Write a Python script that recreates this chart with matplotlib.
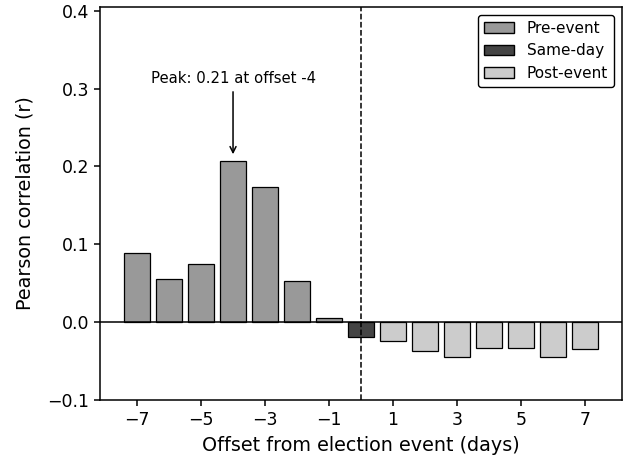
import matplotlib
matplotlib.use("Agg")
import matplotlib.pyplot as plt
from matplotlib.patches import Patch

offsets = [-7, -6, -5, -4, -3, -2, -1, 0, 1, 2, 3, 4, 5, 6, 7]
corr = [0.088, 0.055, 0.075, 0.207, 0.173, 0.052, 0.0055, -0.020,
        -0.024, -0.037, -0.045, -0.034, -0.034, -0.045, -0.035]
xticks = [-7, -5, -3, -1, 1, 3, 5, 7]
yticks = [-0.1, 0.0, 0.1, 0.2, 0.3, 0.4]

c_pre, c_same, c_post = "#999999", "#444444", "#cccccc"
colors = [c_pre if o < 0 else (c_same if o == 0 else c_post) for o in offsets]

fig, ax = plt.subplots(figsize=(6.28, 4.62), dpi=100)
ax.bar(offsets, corr, width=0.8, color=colors, edgecolor="black", linewidth=0.9)
ax.axhline(0, color="black", linewidth=1.1)
ax.axvline(0, color="black", linestyle="--", linewidth=1.1)

peak_i = max(range(len(corr)), key=lambda i: corr[i])
ax.annotate(f"Peak: {corr[peak_i]:.2f} at offset {offsets[peak_i]}",
            xy=(offsets[peak_i], corr[peak_i] + 0.005),
            xytext=(offsets[peak_i], 0.303), ha="center", va="bottom",
            fontsize=10.7, arrowprops=dict(arrowstyle="->", color="black", lw=1.1))

ax.set_ylim(-0.1, 0.405)
ax.set_xticks(xticks)
ax.set_yticks(yticks)
ax.tick_params(labelsize=12.5, width=1.1, length=4.5)
for s in ax.spines.values():
    s.set_linewidth(1.1)
ax.set_xlabel("Offset from election event (days)", fontsize=13.8, labelpad=5)
ax.set_ylabel("Pearson correlation (r)", fontsize=13.8, labelpad=9)

handles = [Patch(facecolor=c_pre, edgecolor="black", label="Pre-event"),
           Patch(facecolor=c_same, edgecolor="black", label="Same-day"),
           Patch(facecolor=c_post, edgecolor="black", label="Post-event")]
leg = ax.legend(handles=handles, loc="upper right", fontsize=11, framealpha=1)
leg.get_frame().set_edgecolor("black")

fig.subplots_adjust(left=0.16, right=0.99, top=0.985, bottom=0.135)
fig.savefig("out.png", dpi=100)
